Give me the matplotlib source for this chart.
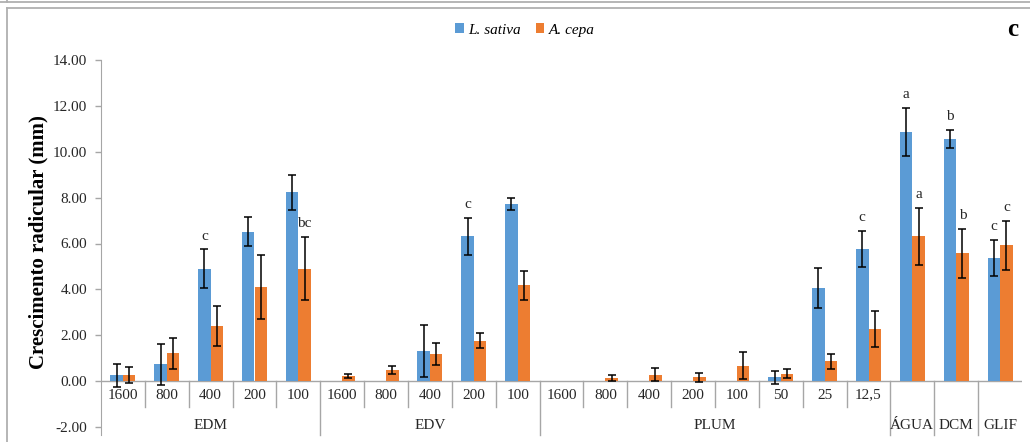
import numpy as np
import matplotlib
matplotlib.use("Agg")
import matplotlib.pyplot as plt
from matplotlib.lines import Line2D

plt.rcParams['font.family'] = ['Liberation Serif', 'DejaVu Serif']

# root growth (mm), mean and error for each treatment
categories = ['1600', '800', '400', '200', '100',
              '1600', '800', '400', '200', '100',
              '1600', '800', '400', '200', '100', '50', '25', '12,5',
              '', '', '']
groups = ['EDM', 'EDV', 'PLUM', 'ÁGUA', 'DCM', 'GLIF']
group_sizes = [5, 5, 8, 1, 1, 1]

sativa = [0.26, 0.73, 4.91, 6.51, 8.23,
          0.0, 0.0, 1.32, 6.32, 7.71,
          0.0, 0.0, 0.0, 0.0, 0.0, 0.16, 4.07, 5.76,
          10.87, 10.55, 5.36]
sativa_err = [0.50, 0.90, 0.83, 0.63, 0.75,
              0.0, 0.0, 1.13, 0.81, 0.27,
              0.0, 0.0, 0.0, 0.0, 0.0, 0.30, 0.87, 0.78,
              1.05, 0.39, 0.78]
cepa = [0.26, 1.21, 2.41, 4.11, 4.91,
        0.23, 0.48, 1.18, 1.77, 4.17,
        0.0, 0.12, 0.28, 0.17, 0.68, 0.32, 0.87, 2.27,
        6.32, 5.57, 5.92]
cepa_err = [0.35, 0.68, 0.87, 1.38, 1.38,
            0.10, 0.19, 0.47, 0.33, 0.62,
            0.0, 0.13, 0.28, 0.19, 0.57, 0.19, 0.32, 0.78,
            1.24, 1.07, 1.07]

# significance letters: (category index, series, letter)
letters = [(2, 0, 'c'), (4, 1, 'bc'), (8, 0, 'c'), (17, 0, 'c'),
           (18, 0, 'a'), (18, 1, 'a'), (19, 0, 'b'), (19, 1, 'b'),
           (20, 0, 'c'), (20, 1, 'c')]

blue = '#5B9BD5'
orange = '#ED7D31'
grey = '#a6a6a6'
txt = '#262626'

fig = plt.figure(figsize=(10.30, 4.42), dpi=100)
ax = fig.add_axes([101 / 1030, 1 - 427 / 442, 921 / 1030, 367 / 442])

x = np.arange(len(categories))
w = 0.285
b1 = ax.bar(x - w / 2, sativa, w, color=blue, label='L. sativa', zorder=2)
b2 = ax.bar(x + w / 2, cepa, w, color=orange, label='A. cepa', zorder=2)

for xs, vals, errs in [(x - w / 2, sativa, sativa_err), (x + w / 2, cepa, cepa_err)]:
    vals = np.array(vals)
    errs = np.array(errs)
    m = errs > 0
    ax.errorbar(xs[m], vals[m], yerr=errs[m], fmt='none', ecolor='black',
                elinewidth=1.1, capsize=3, capthick=1.1, zorder=3)

for i, s, lab in letters:
    val = sativa[i] + sativa_err[i] if s == 0 else cepa[i] + cepa_err[i]
    xpos = x[i] - w / 2 if s == 0 else x[i] + w / 2
    ax.annotate(lab, (xpos, val), xytext=(0, 5), textcoords='offset points',
                ha='center', va='bottom', fontsize=11, color=txt)

ax.set_xlim(-0.5, len(categories) - 0.5)
ax.set_ylim(-2, 14)
ax.set_yticks(np.arange(-2, 15, 2))
ax.set_yticklabels(['%.2f' % v for v in np.arange(-2, 15, 2)])
ax.tick_params(axis='y', length=4, width=1, color=grey, pad=6,
               labelsize=11, labelcolor=txt)
ax.set_xticks([])
for s in ['top', 'right', 'bottom']:
    ax.spines[s].set_visible(False)
ax.spines['left'].set_color(grey)
ax.spines['left'].set_bounds(-2.35, 14)
ax.axhline(0, color=grey, lw=1, zorder=1)

# multi-level category axis below zero
bounds = np.cumsum([0] + group_sizes)
long_lines = set(bounds[1:-1])
for k in range(1, len(categories)):
    bottom = -2.35 if k in long_lines else -1.13
    ax.plot([k - 0.5, k - 0.5], [0, bottom], color=grey, lw=1, clip_on=False)
for i, lab in enumerate(categories):
    ax.text(x[i], -0.61, lab, ha='center', va='center', fontsize=11, color=txt)
for g, a, b in zip(groups, bounds[:-1], bounds[1:]):
    ax.text((a + b - 1) / 2, -1.92, g, ha='center', va='center',
            fontsize=11, color=txt)

ax.set_ylabel('Crescimento radicular (mm)', fontsize=15, fontweight='bold',
              color='black')
ax.yaxis.set_label_coords(-53 / 921, (427 - 242) / 367)

fig.legend(handles=[b1, b2], loc='center', ncol=2, frameon=False,
           bbox_to_anchor=(525 / 1030, 1 - 30 / 442),
           handlelength=0.55, handleheight=0.55, handletextpad=0.3,
           columnspacing=1.0, prop={'style': 'italic', 'size': 11})
fig.text(1013 / 1030, 1 - 30 / 442, 'c', fontsize=18, fontweight='bold',
         ha='center', va='center')

# chart frame
for xs_, ys_ in [([0, 1030], [1.5, 1.5]), ([7, 7], [0, 1.5]),
                 ([7, 1030], [7.5, 7.5]), ([7, 7], [7.5, 442])]:
    fig.add_artist(Line2D([v / 1030 for v in xs_], [1 - v / 442 for v in ys_],
                          color='#b0b0b0', lw=1.3))

fig.savefig('out.png', dpi=100)
